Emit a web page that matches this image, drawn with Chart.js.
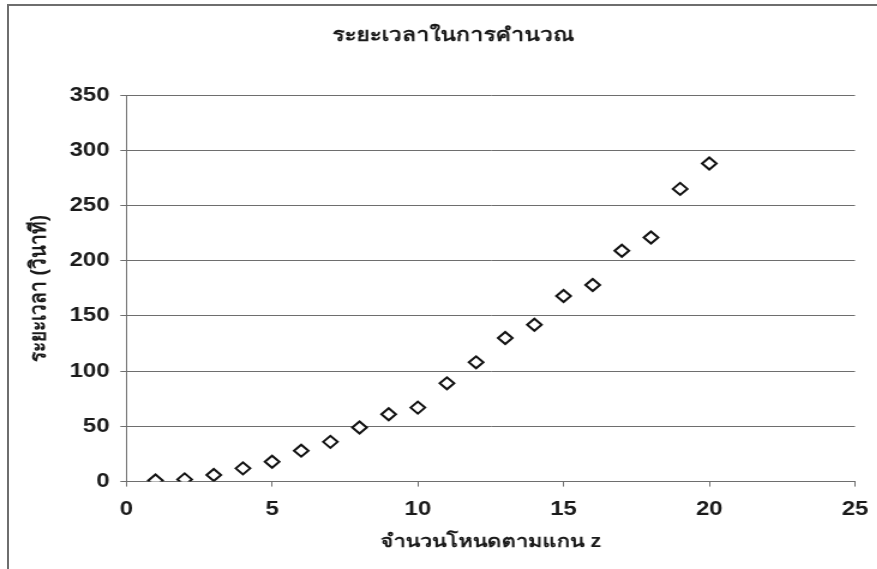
<!DOCTYPE html>
<html>
<head>
<meta charset="utf-8">
<script src="https://cdn.jsdelivr.net/npm/chart.js@4.4.1/dist/chart.umd.min.js"></script>
<style>
  html, body { margin: 0; padding: 0; background: #ffffff; }
  body { width: 877px; height: 569px; position: relative; overflow: hidden; }
  /* the chart is laid out narrow and widened horizontally */
  #plot { position: absolute; left: 0; top: 0; transform: scaleX(1.2); transform-origin: 0 0; }
  #frame { position: absolute; left: 7px; top: 4px; right: -10px; bottom: -10px;
           border-left: 2px solid #6e6e6e; border-top: 2px solid #6e6e6e; pointer-events: none; }
</style>
</head>
<body>
<canvas id="plot" width="731" height="569"></canvas>
<div id="frame"></div>
<script>
// Computation time versus number of nodes along z
const nodeCounts = [1, 2, 3, 4, 5, 6, 7, 8, 9, 10, 11, 12, 13, 14, 15, 16, 17, 18, 19, 20];
const seconds    = [1, 2, 6, 12, 18, 28, 36, 49, 61, 67, 89, 108, 130, 142, 168, 178, 209, 221, 265, 288];
const xTicks = [0, 5, 10, 15, 20, 25];
const yTicks = [0, 50, 100, 150, 200, 250, 300, 350];

const chartTitle = 'ระยะเวลาในการคำนวณ';
const xTitle = 'จำนวนโหนดตามแกน z';
const yTitle = 'ระยะเวลา (วินาที)';

const ink = '#1a1a1a';
const family = '"Liberation Sans", "Noto Sans", "DejaVu Sans", sans-serif';
const numFont = { family: family, size: 20, weight: 'bold' };
const headFont = { family: family, size: 19, weight: 'bold' };
const xTitleFont = { family: family, size: 18, weight: 'bold' };
const yTitleFont = { family: family, size: 19, weight: 'bold' };

// heading text, centred a little right of the canvas middle
const heading = {
  id: 'heading',
  afterDraw(chart) {
    const ctx = chart.ctx;
    ctx.save();
    ctx.fillStyle = ink;
    ctx.font = `${headFont.weight} ${headFont.size}px ${headFont.family}`;
    ctx.textAlign = 'center';
    ctx.textBaseline = 'middle';
    ctx.fillText(chartTitle, 378, 36);
    ctx.restore();
  }
};

new Chart(document.getElementById('plot'), {
  type: 'scatter',
  data: {
    datasets: [{
      data: nodeCounts.map((n, i) => ({ x: n, y: seconds[i] })),
      pointStyle: 'rectRot',
      pointRadius: 6,
      pointBorderWidth: 2,
      pointBorderColor: '#111111',
      pointBackgroundColor: '#ffffff'
    }]
  },
  options: {
    responsive: false,
    animation: false,
    events: [],
    layout: { padding: { left: 17.3, right: 18.5, top: 95, bottom: 9.8 } },
    plugins: {
      legend: { display: false },
      tooltip: { enabled: false },
      title: { display: false }
    },
    scales: {
      x: {
        type: 'linear',
        min: 0, max: 25,
        afterBuildTicks(axis) { axis.ticks = xTicks.map(v => ({ value: v })); },
        // end labels may hang into the outer margin
        afterFit(axis) { axis.paddingLeft = 0; axis.paddingRight = 0; },
        grid: { drawOnChartArea: false, drawTicks: true, tickLength: 5, color: '#6e6e6e', lineWidth: 1 },
        border: { color: '#6e6e6e', width: 1 },
        ticks: { color: ink, font: numFont, padding: 11, maxRotation: 0 },
        title: { display: true, text: xTitle, color: ink, font: xTitleFont, padding: { top: -1, bottom: 6 } }
      },
      y: {
        type: 'linear',
        min: 0, max: 350,
        afterBuildTicks(axis) { axis.ticks = yTicks.map(v => ({ value: v })); },
        grid: { drawOnChartArea: true, drawTicks: true, tickLength: 5, color: '#6e6e6e', lineWidth: 1 },
        border: { color: '#6e6e6e', width: 1 },
        ticks: { color: ink, font: numFont, padding: 9 },
        title: { display: true, text: yTitle, color: ink, font: yTitleFont, padding: { top: 4, bottom: 4.8 } }
      }
    }
  },
  plugins: [heading]
});
</script>
</body>
</html>
